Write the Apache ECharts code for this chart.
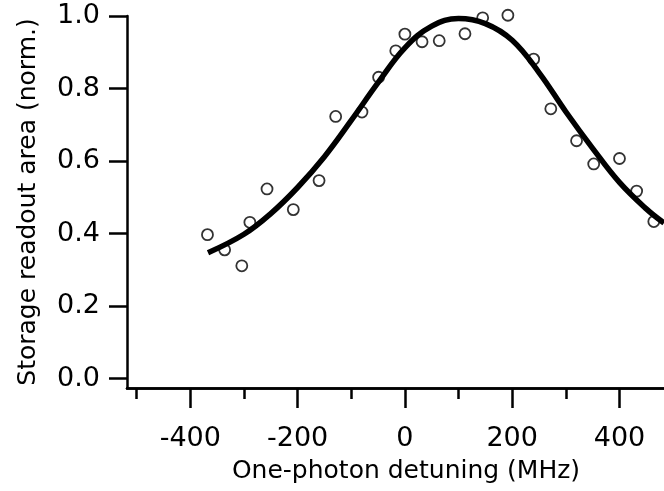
<!DOCTYPE html>
<html>
<head>
<meta charset="utf-8">
<script src="https://cdn.jsdelivr.net/npm/echarts@6/dist/echarts.min.js"></script>
<style>
html,body{margin:0;padding:0;background:#fff;}
#chart{width:664px;height:491px;}
</style>
</head>
<body>
<div id="chart"></div>
<script>
// Measured data points (one-photon detuning in MHz, normalized storage readout area)
const ptsX = [-368, -336, -304, -289, -257, -208, -160, -129, -80, -49, -17, 0, 32, 64, 112, 145, 192, 240, 272, 320, 352, 400, 432, 464];
const ptsY = [0.397, 0.355, 0.311, 0.431, 0.523, 0.466, 0.546, 0.723, 0.735, 0.831, 0.904, 0.950, 0.929, 0.932, 0.951, 0.995, 1.002, 0.881, 0.744, 0.656, 0.592, 0.607, 0.517, 0.433];

// Fit curve
const fitX = [-367, -300, -250, -200, -150, -100, -50, 0, 50, 100, 150, 200, 250, 300, 350, 400, 450, 483];
const fitY = [0.347, 0.398, 0.455, 0.527, 0.612, 0.712, 0.816, 0.912, 0.972, 0.993, 0.979, 0.933, 0.844, 0.736, 0.635, 0.541, 0.468, 0.429];

// Tick values
const xMajorTicks = [-400, -200, 0, 200, 400];
const xMinorTicks = [-500, -300, -100, 100, 300];
const yTicks = [0, 0.2, 0.4, 0.6, 0.8, 1.0];

const FONT = 'DejaVu Sans';

const chart = echarts.init(document.getElementById('chart'), null, {renderer: 'canvas'});

const axisLineStyle = {color: '#000', width: 2.5};
const tickStyle = {color: '#000', width: 2.5};

chart.setOption({
  animation: false,
  backgroundColor: '#fff',
  grid: {left: 127, right: 0, top: 16, bottom: 103, containLabel: false},
  xAxis: [
    {
      type: 'value', min: -518, max: 483, position: 'bottom',
      axisLine: {show: true, onZero: false, lineStyle: axisLineStyle},
      axisTick: {show: true, inside: false, length: 20, lineStyle: tickStyle, customValues: xMajorTicks},
      axisLabel: {show: true, customValues: xMajorTicks, color: '#000', fontFamily: FONT, fontSize: 27, margin: 37},
      splitLine: {show: false},
      name: 'One-photon detuning (MHz)', nameLocation: 'middle', nameGap: 71,
      nameTextStyle: {color: '#000', fontFamily: FONT, fontSize: 25, padding: [0, 0, 0, 21]}
    },
    {
      type: 'value', min: -518, max: 483, position: 'bottom',
      axisLine: {show: true, onZero: false, lineStyle: axisLineStyle},
      axisTick: {show: true, inside: false, length: 11, lineStyle: tickStyle, customValues: xMinorTicks},
      axisLabel: {show: false},
      splitLine: {show: false}
    }
  ],
  yAxis: {
    type: 'value', min: -0.026, max: 1.0,
    axisLine: {show: true, onZero: false, lineStyle: axisLineStyle},
    axisTick: {show: true, inside: false, length: 18, lineStyle: tickStyle, customValues: yTicks},
    axisLabel: {show: true, customValues: yTicks, color: '#000', fontFamily: FONT, fontSize: 27, margin: 27,
      formatter: v => v.toFixed(1)},
    splitLine: {show: false},
    name: 'Storage readout area (norm.)', nameLocation: 'middle', nameGap: 86,
    nameTextStyle: {color: '#000', fontFamily: FONT, fontSize: 25}
  },
  series: [
    {
      type: 'scatter',
      data: ptsX.map((x, i) => [x, ptsY[i]]),
      symbol: 'circle',
      symbolSize: 11,
      clip: false,
      itemStyle: {color: '#fff', borderColor: '#000', borderWidth: 1.8},
      z: 2
    },
    {
      type: 'line',
      data: fitX.map((x, i) => [x, fitY[i]]),
      showSymbol: false,
      smooth: 0.4,
      lineStyle: {color: '#000', width: 5.5},
      z: 3
    }
  ]
});
</script>
</body>
</html>
